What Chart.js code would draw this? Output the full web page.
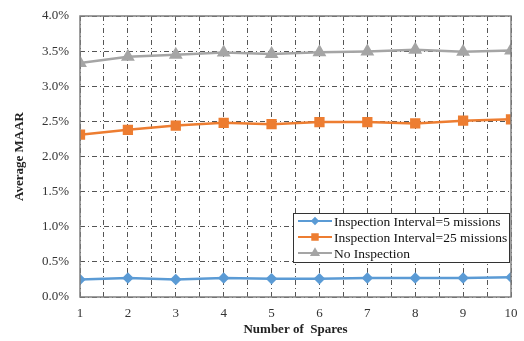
<!DOCTYPE html>
<html>
<head>
<meta charset="utf-8">
<script src="https://cdn.jsdelivr.net/npm/chart.js@4"></script>
<style>
  html, body { margin: 0; padding: 0; background: #fff; }
  #wrap { width: 524px; height: 341px; }
</style>
</head>
<body>
<div id="wrap"><canvas id="myChart" width="524" height="341"></canvas></div>
<script>
// data (values in %)
const spares = [1, 2, 3, 4, 5, 6, 7, 8, 9, 10];
const interval5 = [0.25, 0.27, 0.25, 0.27, 0.26, 0.26, 0.27, 0.27, 0.27, 0.28];
const interval25 = [2.31, 2.38, 2.44, 2.48, 2.46, 2.49, 2.49, 2.47, 2.51, 2.53];
const noInspection = [3.33, 3.42, 3.45, 3.48, 3.46, 3.485, 3.495, 3.52, 3.49, 3.51];
const seriesNames = ['Inspection Interval=5 missions', 'Inspection Interval=25 missions', 'No Inspection'];
const yTicks = [0, 0.5, 1, 1.5, 2, 2.5, 3, 3.5, 4];

const FONT = "'Liberation Serif', 'Times New Roman', serif";

function pts(vals) {
  return spares.map((s, i) => ({ x: s, y: vals[i] }));
}

// frame round the plot area + legend box inside it
const framePlugin = {
  id: 'frame',
  afterDraw(chart) {
    const { ctx, chartArea: a } = chart;
    ctx.save();
    ctx.strokeStyle = '#7f7f7f';
    ctx.lineWidth = 1.5;
    ctx.strokeRect(a.left, a.top, a.right - a.left, a.bottom - a.top);

    // legend
    const bx = 293, by = 213, bw = 216, bh = 49;
    ctx.fillStyle = '#fff';
    ctx.fillRect(bx, by, bw, bh);
    ctx.strokeStyle = '#333';
    ctx.lineWidth = 1;
    ctx.strokeRect(bx + 0.5, by + 0.5, bw, bh);
    ctx.font = '13.5px ' + FONT;
    ctx.textBaseline = 'middle';
    chart.data.datasets.forEach((ds, i) => {
      const y = by + 8 + i * 16;
      ctx.strokeStyle = ds.borderColor;
      ctx.lineWidth = 2;
      ctx.beginPath();
      ctx.moveTo(298, y);
      ctx.lineTo(332, y);
      ctx.stroke();
      Chart.helpers.drawPoint(ctx, { pointStyle: ds.pointStyle, radius: ds.pointRadius * 0.7, borderWidth: 1 }, 315, y);
      ctx.fillStyle = ds.borderColor;
      ctx.fill();
      ctx.fillStyle = '#111';
      ctx.fillText(ds.label, 334, y + 1);
    });
    ctx.restore();
  }
};

const ctx = document.getElementById('myChart').getContext('2d');
new Chart(ctx, {
  type: 'line',
  data: {
    datasets: [
      {
        label: seriesNames[0], data: pts(interval5),
        borderColor: '#5b9bd5', backgroundColor: '#5b9bd5',
        pointStyle: 'rectRot', pointRadius: 4, borderWidth: 2.5
      },
      {
        label: seriesNames[1], data: pts(interval25),
        borderColor: '#ed7d31', backgroundColor: '#ed7d31',
        pointStyle: 'rect', pointRadius: 5.5, borderWidth: 2.5
      },
      {
        label: seriesNames[2], data: pts(noInspection),
        borderColor: '#a5a5a5', backgroundColor: '#a5a5a5',
        pointStyle: 'triangle', pointRadius: 5.5, borderWidth: 2.5
      }
    ]
  },
  options: {
    responsive: false,
    animation: false,
    layout: { padding: { top: 16, right: 13, left: 8, bottom: 0 } },
    plugins: { legend: { display: false }, tooltip: { enabled: false } },
    elements: { line: { tension: 0 }, point: { borderWidth: 0 } },
    scales: {
      x: {
        type: 'linear', min: 1, max: 10,
        afterFit(s) { s.height = 44; s.paddingLeft = 0; s.paddingRight = 0; },
        ticks: {
          stepSize: 0.5, autoSkip: false, maxRotation: 0,
          color: '#333', font: { family: FONT, size: 13 }, padding: 9,
          callback: v => Number.isInteger(v) ? String(v) : ''
        },
        grid: { color: '#555', lineWidth: 1, drawTicks: false },
        border: { dash: [5, 3, 1, 3], display: false },
        title: {
          display: true, text: 'Number of  Spares', color: '#222',
          font: { family: FONT, size: 13, weight: 'bold' }, padding: { top: 0 }
        }
      },
      y: {
        min: 0, max: 4,
        afterFit(s) { s.width = 72; s.paddingTop = 0; s.paddingBottom = 0; },
        afterBuildTicks(s) { s.ticks = yTicks.map(v => ({ value: v })); },
        ticks: {
          color: '#333', font: { family: FONT, size: 13 }, padding: 11,
          callback: v => v.toFixed(1) + '%'
        },
        grid: { color: '#555', lineWidth: 1, drawTicks: false },
        border: { dash: [5, 3, 1, 3], display: false },
        title: {
          display: true, text: 'Average MAAR', color: '#222',
          font: { family: FONT, size: 13, weight: 'bold' }, padding: { bottom: 4 }
        }
      }
    }
  },
  plugins: [framePlugin]
});
</script>
</body>
</html>
